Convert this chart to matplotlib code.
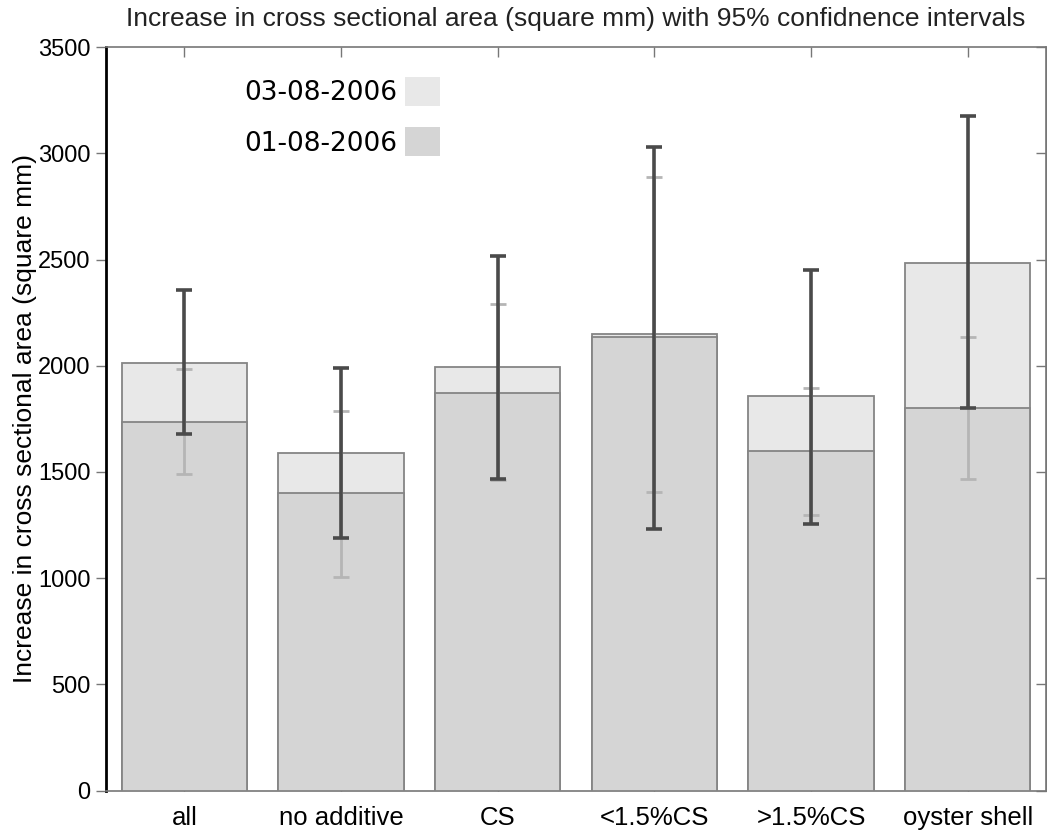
import numpy as np
import matplotlib
matplotlib.use('Agg')
import matplotlib.pyplot as plt

# mean increase in cross sectional area (mm^2) and 95% CI bounds per treatment
categories = ['all', 'no additive', 'CS', '<1.5%CS', '>1.5%CS', 'oyster shell']
dates = ['03-08-2006', '01-08-2006']

area_0308 = [2015, 1590, 1992, 2149, 1856, 2483]
lo_0308 = [1677, 1190, 1468, 1233, 1255, 1802]
hi_0308 = [2356, 1988, 2516, 3030, 2451, 3177]

area_0108 = [1733, 1399, 1870, 2134, 1598, 1802]
lo_0108 = [1489, 1005, 1460, 1405, 1297, 1465]
hi_0108 = [1986, 1788, 2289, 2890, 1896, 2134]

light = '#e8e8e8'
dark = '#d5d5d5'
edge = '#858585'

plt.rcParams['font.family'] = ['Liberation Sans', 'DejaVu Sans']

fig = plt.figure(figsize=(10.47, 8.32), dpi=100)
ax = fig.add_axes([106 / 1047, 41.5 / 832, 940 / 1047, 743.4 / 832])

x = np.arange(len(categories))
a3 = np.array(area_0308)
a1 = np.array(area_0108)
err3 = [a3 - np.array(lo_0308), np.array(hi_0308) - a3]
err1 = [a1 - np.array(lo_0108), np.array(hi_0108) - a1]

b3 = ax.bar(x, a3, width=0.8, color=light, edgecolor=edge, linewidth=1.3, zorder=2)
b1 = ax.bar(x, a1, width=0.8, color=dark, edgecolor=edge, linewidth=1.3, zorder=3)

# thin pale bars = 01-08 CI, heavy dark bars = 03-08 CI
ax.errorbar(x, a1, yerr=err1, fmt='none', ecolor='#b5b5b5', elinewidth=2,
            capsize=6, capthick=2, zorder=4)
ax.errorbar(x, a3, yerr=err3, fmt='none', ecolor='#4a4a4a', elinewidth=2.6,
            capsize=6, capthick=2.6, zorder=5)

ax.set_xlim(-0.5, 5.5)
ax.set_ylim(0, 3500)
ax.set_yticks(np.arange(0, 3501, 500))
ax.set_xticks(x)
ax.set_xticklabels(categories)

ax.tick_params(axis='x', direction='in', length=7, width=1, color='#777777',
               labelsize=18.5, pad=11, top=True)
ax.tick_params(axis='y', direction='out', length=7, width=1, color='#777777',
               labelsize=17, pad=4)

# inward ticks on the right-hand edge of the box
right = ax.secondary_yaxis('right')
right.set_yticks(np.arange(0, 3501, 500))
right.tick_params(direction='in', length=7, width=1, color='#777777', labelright=False)
right.spines['right'].set_color('#777777')

for side in ['top', 'right', 'bottom']:
    ax.spines[side].set_color('#777777')
    ax.spines[side].set_linewidth(1.2)
ax.spines['left'].set_color('black')
ax.spines['left'].set_linewidth(2)

ax.set_title('Increase in cross sectional area (square mm) with 95% confidnence intervals',
             fontsize=19, pad=15, color='#222222')
ax.set_ylabel('Increase in cross sectional area (square mm)', fontsize=19)
ax.yaxis.set_label_coords(-0.073, 0.5)

leg = ax.legend([b3, b1], dates, loc='upper right', markerfirst=False, frameon=False,
                bbox_to_anchor=(440 / 1047, 1 - 77 / 832), bbox_transform=fig.transFigure,
                borderpad=0, borderaxespad=0, handlelength=1.33, handleheight=1.3,
                handletextpad=0.3, labelspacing=0.8,
                prop={'family': 'DejaVu Sans', 'size': 19})
for h in leg.legend_handles:
    h.set_edgecolor('none')

fig.savefig('out.png', dpi=100)
